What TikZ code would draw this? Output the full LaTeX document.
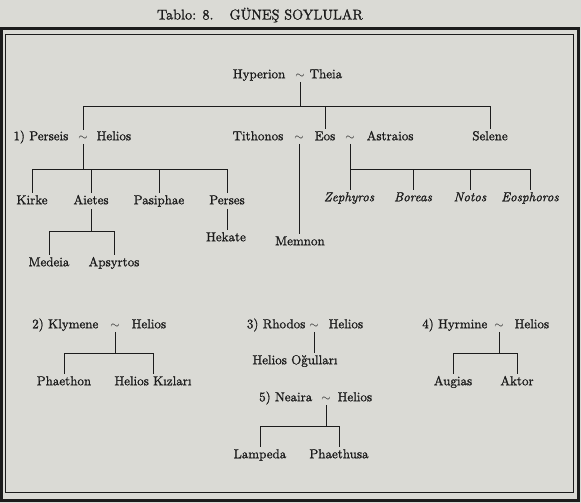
\documentclass[tikz,border=0pt]{standalone}
\usepackage{fontspec}
\newfontfamily\scanfont{lmroman10-regular.otf}[FakeBold=1.2, ItalicFont=lmroman10-italic.otf]
\definecolor{paper}{RGB}{218,218,213}
\definecolor{ink}{RGB}{28,28,28}
\begin{document}
\begin{tikzpicture}[x=1pt,y=-1pt,
    kin/.style={font=\scanfont\fontsize{13}{15}\selectfont, text=ink, inner sep=1.5pt, text height=9.5pt, text depth=3pt},
    son/.style={kin, font=\scanfont\fontsize{13}{15}\selectfont\itshape},
    wed/.style={kin, inner sep=0.5pt},
    link/.style={draw=ink, line width=1pt}]
    % Paper and frame
    \fill[paper] (0,0) rectangle (581,503);
    \useasboundingbox (0,0) rectangle (581,503);
    \draw[ink, line width=3pt] (1.5,28.5) rectangle (578.5,500.5);
    \draw[ink, line width=1pt] (5,34.5) rectangle (573,492);
    \node[text=ink, font=\scanfont\fontsize{14.2}{16}\selectfont] (title) at (260,15) {Tablo: 8.\hspace{16pt}GÜNEŞ SOYLULAR};

    % Hyperion and Theia
    \node[kin, anchor=east] (hyp) at (287,75) {Hyperion};
    \node[wed] (t0) at (300,75) {$\sim$};
    \node[kin, anchor=west] (theia) at (308,75) {Theia};

    % Their children
    \node[kin, anchor=east] (perseis) at (70,137) {1) Perseis};
    \node[wed] (t1) at (83,137) {$\sim$};
    \node[kin, anchor=west] (helios1) at (95,137) {Helios};
    \node[kin, anchor=east] (tith) at (285,137) {Tithonos};
    \node[wed] (t2) at (299,137) {$\sim$};
    \node[kin] (eos) at (325,137) {Eos};
    \node[wed] (t3) at (350,137) {$\sim$};
    \node[kin, anchor=west] (astr) at (365,137) {Astraios};
    \node[kin] (selene) at (490,137) {Selene};
    \coordinate (b0) at (0,106);
    \draw[link] (t0.south) -- (t0 |- b0);
    \draw[link] (t1 |- b0) -- (selene |- b0);
    \draw[link] (t1 |- b0) -- (t1.north);
    \draw[link] (eos |- b0) -- (eos.north);
    \draw[link] (selene |- b0) -- (selene.north);

    % Perseis and Helios
    \node[kin] (kirke) at (32,201) {Kirke};
    \node[kin] (aietes) at (91,201) {Aietes};
    \node[kin] (pasi) at (159,201) {Pasiphae};
    \node[kin] (perses) at (227,201) {Perses};
    \coordinate (b1) at (0,169);
    \draw[link] (t1.south) -- (t1 |- b1);
    \draw[link] (kirke |- b1) -- (perses |- b1);
    \foreach \k in {kirke,aietes,pasi,perses}
        \draw[link] (\k |- b1) -- (\k.north);
    \node[kin] (medeia) at (49,263) {Medeia};
    \node[kin] (apsyr) at (114,263) {Apsyrtos};
    \coordinate (b2) at (0,231);
    \draw[link] (aietes.south) -- (aietes |- b2);
    \draw[link] (medeia |- b2) -- (apsyr |- b2);
    \draw[link] (medeia |- b2) -- (medeia.north);
    \draw[link] (apsyr |- b2) -- (apsyr.north);
    \node[kin] (hekate) at (226,238) {Hekate};
    \draw[link] (perses.south) -- (perses |- hekate.north);

    % Tithonos and Eos
    \node[kin] (memnon) at (300,242) {Memnon};
    \draw[link] (t2.south) -- (t2 |- memnon.north);

    % Eos and Astraios
    \node[son] (zeph) at (349,198) {Zephyros};
    \node[son] (boreas) at (413,198) {Boreas};
    \node[son] (notos) at (470,198) {Notos};
    \node[son] (eosph) at (530,198) {Eosphoros};
    \coordinate (b3) at (0,169);
    \draw[link] (t3.south) -- (t3 |- zeph.north);
    \draw[link] (t3 |- b3) -- (eosph |- b3);
    \foreach \k in {boreas,notos,eosph}
        \draw[link] (\k |- b3) -- (\k.north);

    % 2) Klymene and Helios
    \node[kin, anchor=east] (klym) at (100,325) {2) Klymene};
    \node[wed] (t4) at (115,325) {$\sim$};
    \node[kin, anchor=west] (helios2) at (130,325) {Helios};
    \node[kin] (phaethon) at (64,382) {Phaethon};
    \node[kin] (kizlar) at (153,382) {Helios Kızları};
    \coordinate (b4) at (0,353);
    \draw[link] (t4.south) -- (t4 |- b4);
    \draw[link] (phaethon |- b4) -- (kizlar |- b4);
    \draw[link] (phaethon |- b4) -- (phaethon.north);
    \draw[link] (kizlar |- b4) -- (kizlar.north);

    % 3) Rhodos and Helios
    \node[kin, anchor=east] (rhodos) at (307,325) {3) Rhodos};
    \node[wed] (t5) at (314,325) {$\sim$};
    \node[kin, anchor=west] (helios3) at (327,325) {Helios};
    \node[kin] (ogul) at (295,361) {Helios Oğulları};
    \draw[link] (t5.south) -- (t5 |- ogul.north);

    % 4) Hyrmine and Helios
    \node[kin, anchor=east] (hyrm) at (489,325) {4) Hyrmine};
    \node[wed] (t6) at (499,325) {$\sim$};
    \node[kin, anchor=west] (helios4) at (513,325) {Helios};
    \node[kin] (augias) at (453,382) {Augias};
    \node[kin] (aktor) at (517,382) {Aktor};
    \coordinate (b6) at (0,353);
    \draw[link] (t6.south) -- (t6 |- b6);
    \draw[link] (augias |- b6) -- (aktor |- b6);
    \draw[link] (augias |- b6) -- (augias.north);
    \draw[link] (aktor |- b6) -- (aktor.north);

    % 5) Neaira and Helios
    \node[kin, anchor=east] (neaira) at (314,398) {5) Neaira};
    \node[wed] (t7) at (326,398) {$\sim$};
    \node[kin, anchor=west] (helios5) at (336,398) {Helios};
    \node[kin] (lampeda) at (260,455) {Lampeda};
    \node[kin] (phaethusa) at (339,455) {Phaethusa};
    \coordinate (b7) at (0,426);
    \draw[link] (t7.south) -- (t7 |- b7);
    \draw[link] (lampeda |- b7) -- (phaethusa |- b7);
    \draw[link] (lampeda |- b7) -- (lampeda.north);
    \draw[link] (phaethusa |- b7) -- (phaethusa.north);
\end{tikzpicture}
\end{document}
